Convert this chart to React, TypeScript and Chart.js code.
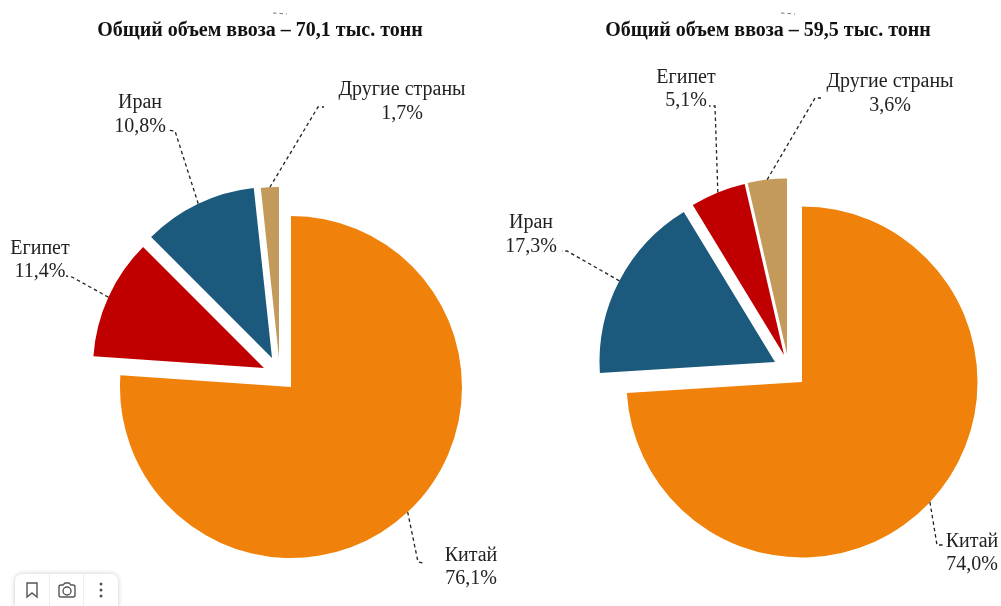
import React, { useEffect, useRef } from "react";
import { Chart, registerables } from "chart.js";

Chart.register(...registerables);

const titleA = "Общий объем ввоза – 70,1 тыс. тонн";
const titleB = "Общий объем ввоза – 59,5 тыс. тонн";
const categoriesA = ["Китай", "Египет", "Иран", "Другие страны"];
const categoriesB = ["Китай", "Иран", "Египет", "Другие страны"];
const valuesA = [76.1, 11.4, 10.8, 1.7];
const valuesB = [74.0, 17.3, 5.1, 3.6];
const coloursA = ["#F0810A", "#C00000", "#1C5A7D", "#C49A5A"];
const coloursB = ["#F0810A", "#1C5A7D", "#C00000", "#C49A5A"];

// Layout: page-space placement of each pie and its annotations
const layoutA = {
  left: 0, width: 502, cx: 291, cy: 387, radius: 171, titleX: 260,
  explode: [[0, 0], [-27, -19], [-19, -29], [-12, -29]],
  labels: [[471, 561, 584], [40, 254, 277], [140, 108, 132], [402, 95, 119]],
  elbows: [[[418, 562], [423, 563]], [[72, 277], [66, 276]], [[175, 131], [167, 130]], [[318, 107], [324, 107]]],
  scrap: 273,
};
const layoutB = {
  left: 502, width: 499, cx: 802, cy: 382, radius: 175.5, titleX: 768,
  explode: [[0, 0], [-27, -20], [-18, -27], [-15, -28]],
  labels: [[972, 547, 570], [531, 228, 252], [686, 83, 106], [890, 87, 111]],
  elbows: [[[937, 545], [943, 545]], [[567, 251], [562, 251]], [[715, 106], [709, 106]], [[815, 98], [821, 98]]],
  scrap: 781,
};

const pct = (v: number) => v.toFixed(1).replace(".", ",") + "%";

function makeChart(canvas: HTMLCanvasElement, title: string, cats: string[], vals: number[], cols: string[], L: any) {
  const plugin = {
    id: "excelPie",
    afterDatasetsUpdate(chart: any) {
      chart.getDatasetMeta(0).data.forEach((arc: any, i: number) => {
        arc.x += L.explode[i][0];
        arc.y += L.explode[i][1];
      });
    },
    afterDatasetsDraw(chart: any) {
      const ctx = chart.ctx;
      ctx.save();
      ctx.translate(-L.left, 0);
      ctx.fillStyle = "#111";
      ctx.textAlign = "center";
      ctx.textBaseline = "alphabetic";
      ctx.font = 'bold 20px "Liberation Serif"';
      ctx.fillText(title, L.titleX, 36);

      ctx.strokeStyle = "#222";
      ctx.lineWidth = 1.3;
      ctx.setLineDash([3.5, 3]);
      chart.getDatasetMeta(0).data.forEach((arc: any, i: number) => {
        const mid = (arc.startAngle + arc.endAngle) / 2;
        ctx.beginPath();
        ctx.moveTo(L.left + arc.x + Math.cos(mid) * arc.outerRadius, arc.y + Math.sin(mid) * arc.outerRadius);
        L.elbows[i].forEach((p: number[]) => ctx.lineTo(p[0], p[1]));
        ctx.stroke();
      });
      ctx.lineWidth = 1;
      ctx.strokeStyle = "#777";
      ctx.beginPath();
      ctx.moveTo(L.scrap, 13);
      ctx.lineTo(L.scrap + 14, 14);
      ctx.stroke();
      ctx.setLineDash([]);

      ctx.font = '20px "Liberation Serif"';
      ctx.fillStyle = "#222";
      cats.forEach((c, i) => {
        const [x, y1, y2] = L.labels[i];
        ctx.fillText(c, x, y1);
        ctx.fillText(pct(vals[i]), x, y2);
      });
      ctx.restore();
    },
  };
  const pad = L.cx - L.left;
  return new Chart(canvas, {
    type: "pie",
    data: {
      labels: cats,
      datasets: [{ data: vals, backgroundColor: cols, borderWidth: 0, radius: L.radius, clip: false } as any],
    },
    options: {
      responsive: false,
      animation: false,
      events: [],
      layout: {
        padding: {
          left: Math.max(0, 2 * pad - L.width),
          right: Math.max(0, L.width - 2 * pad),
          top: Math.max(0, 2 * L.cy - 606),
          bottom: 0,
        },
      },
      plugins: { legend: { display: false }, title: { display: false }, tooltip: { enabled: false } },
    },
    plugins: [plugin],
  } as any);
}

export default function App() {
  const a = useRef<HTMLCanvasElement>(null);
  const b = useRef<HTMLCanvasElement>(null);
  useEffect(() => {
    const c1 = makeChart(a.current!, titleA, categoriesA, valuesA, coloursA, layoutA);
    const c2 = makeChart(b.current!, titleB, categoriesB, valuesB, coloursB, layoutB);
    return () => {
      c1.destroy();
      c2.destroy();
    };
  }, []);
  const icon = { width: 34, height: 32, display: "flex", alignItems: "center", justifyContent: "center" } as const;
  return (
    <div style={{ position: "absolute", left: 0, top: 0, width: 1001, height: 606, overflow: "hidden", background: "#fff" }}>
      <canvas ref={a} width={layoutA.width} height={606} style={{ position: "absolute", left: layoutA.left, top: 0, width: layoutA.width, height: 606 }} />
      <canvas ref={b} width={layoutB.width} height={606} style={{ position: "absolute", left: layoutB.left, top: 0, width: layoutB.width, height: 606 }} />
      <div style={{ position: "absolute", left: 15, top: 574, width: 103, height: 40, background: "#fff", borderRadius: 7, boxShadow: "0 0 5px rgba(0,0,0,0.22)", display: "flex" }}>
        <div style={{ ...icon, borderRight: "1px solid #eee" }}>
          <svg width="14" height="18" viewBox="0 0 14 18" fill="none" stroke="#555" strokeWidth="1.4"><path d="M2 2h10v14l-5-4-5 4z" /></svg>
        </div>
        <div style={{ ...icon, borderRight: "1px solid #eee" }}>
          <svg width="20" height="18" viewBox="0 0 20 18" fill="none" stroke="#555" strokeWidth="1.4"><path d="M4 4h2l2-2h4l2 2h2a2 2 0 0 1 2 2v8a2 2 0 0 1-2 2H4a2 2 0 0 1-2-2V6a2 2 0 0 1 2-2z" /><circle cx="10" cy="10" r="4" /></svg>
        </div>
        <div style={icon}>
          <svg width="6" height="18" viewBox="0 0 6 18" fill="#555"><circle cx="3" cy="3" r="1.5" /><circle cx="3" cy="9" r="1.5" /><circle cx="3" cy="15" r="1.5" /></svg>
        </div>
      </div>
    </div>
  );
}
